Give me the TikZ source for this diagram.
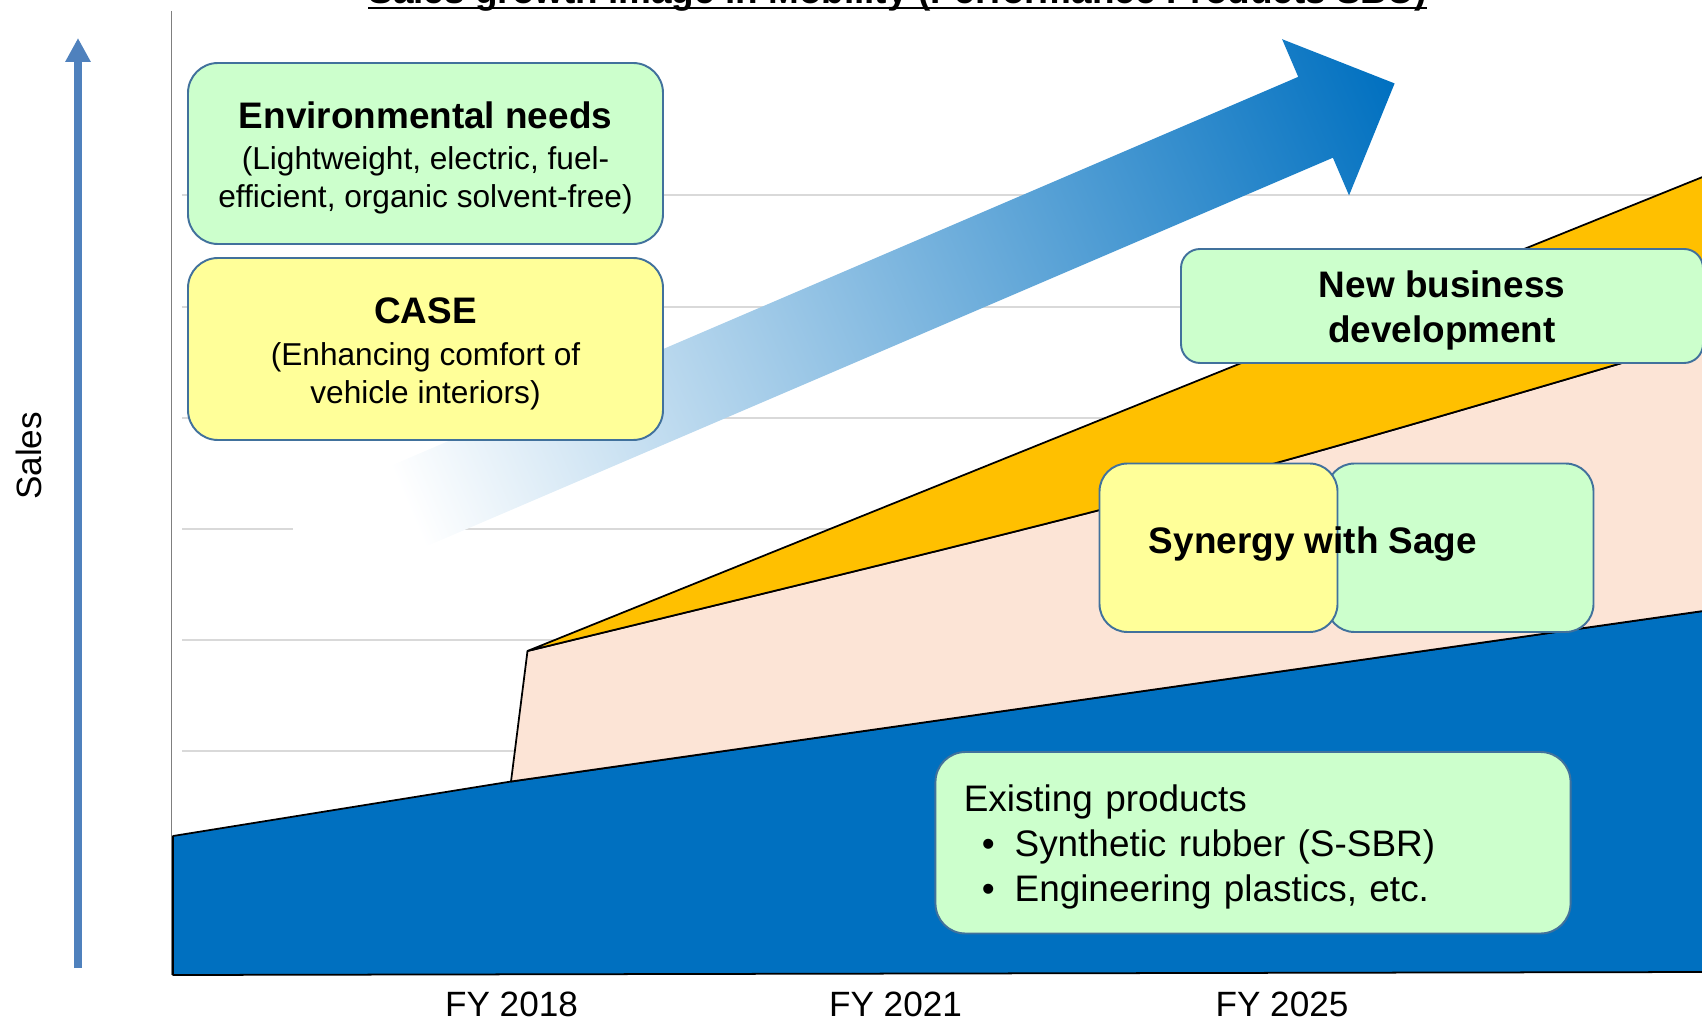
\documentclass[tikz,border=0pt]{standalone}
\usepackage{fontspec}
\setmainfont{Liberation Sans}
\usetikzlibrary{arrows.meta}
\definecolor{boxedge}{HTML}{41719C}
\definecolor{greenfill}{HTML}{CCFFCC}
\definecolor{yellowfill}{HTML}{FFFF99}
\definecolor{gridgray}{HTML}{D9D9D9}
\definecolor{axisgray}{HTML}{7F7F7F}
\definecolor{existblue}{HTML}{0070C0}
\definecolor{synpink}{HTML}{FCE4D6}
\definecolor{neworange}{HTML}{FFC000}
\definecolor{arrowblue}{HTML}{0070C0}
\definecolor{salesblue}{HTML}{4F81BD}
\newcommand{\boxhead}{\fontsize{21}{25.3}\selectfont\bfseries}
\newcommand{\topstrut}{\rule{0pt}{20.4pt}}
\begin{document}
\begin{tikzpicture}[
	gridline/.style={draw=gridgray, line width=1.1pt},
	areaedge/.style={draw=black, line width=1pt, line join=round},
	greenbox/.style={draw=boxedge, line width=1.1pt, fill=greenfill, align=center, inner sep=0pt},
	yellowbox/.style={draw=boxedge, line width=1.1pt, fill=yellowfill, align=center, inner sep=0pt},
	subtext/.style={font=\fontsize{18}{21.6}\selectfont},
	yearlabel/.style={anchor=base, font=\fontsize{20}{24}\selectfont}
]
	\useasboundingbox (0,0) rectangle (34.04,-20.42);
	\draw[gridline] (3.64,-3.90) -- (34.04,-3.90);
	\draw[gridline] (3.64,-6.14) -- (34.04,-6.14);
	\draw[gridline] (3.64,-8.36) -- (34.04,-8.36);
	\draw[gridline] (3.64,-10.58) -- (5.86,-10.58);
	\draw[gridline] (9.30,-10.58) -- (34.04,-10.58);
	\draw[gridline] (3.64,-12.80) -- (34.04,-12.80);
	\draw[gridline] (3.64,-15.02) -- (34.04,-15.02);
	\draw[draw=axisgray, line width=1pt] (3.43,-0.22) -- (3.43,-19.50);
	\draw[areaedge, fill=existblue] (3.46,-16.72) -- (10.22,-15.63) -- (34.20,-12.20) -- (34.20,-19.44) -- (3.46,-19.50) -- cycle;
	\draw[areaedge, fill=synpink] (10.22,-15.63) -- (10.55,-13.02) .. controls (24.00,-9.75) .. (34.20,-6.74) -- (34.20,-12.20) -- cycle;
	\draw[areaedge, fill=neworange] (10.55,-13.02) -- (34.20,-3.48) -- (34.20,-6.74) .. controls (24.00,-9.75) .. (10.55,-13.02) -- cycle;
	\begin{scope}[transform canvas={shift={(8.15,-10.13)}, rotate=23.2}]
		\shade[left color=white, right color=arrowblue] (0,-0.88) -- (19.76,-0.88) -- (19.76,-1.70) -- (21.48,0) -- (19.76,1.70) -- (19.76,0.88) -- (0,0.88) -- cycle;
	\end{scope}
	\node[greenbox, subtext, rounded corners=6mm, minimum width=95mm, minimum height=36.2mm] (envneeds) at (8.51,-3.07) {{\boxhead\topstrut Environmental needs}\\[2pt](Lightweight, electric, fuel-\\efficient, organic solvent-free)};
	\node[yellowbox, subtext, rounded corners=6mm, minimum width=95mm, minimum height=36.4mm] (casebox) at (8.51,-6.98) {{\boxhead\topstrut CASE}\\[2pt](Enhancing comfort of\\vehicle interiors)};
	\node[greenbox, font=\boxhead, rounded corners=3.8mm, minimum width=104.4mm, minimum height=22.8mm] (newbiz) at (28.84,-6.12) {\topstrut New business\\development};
	\node[greenbox, rounded corners=5.6mm, minimum width=53.4mm, minimum height=33.7mm] (sagegreen) at (29.20,-10.955) {};
	\node[yellowbox, rounded corners=5.6mm, minimum width=47.6mm, minimum height=33.7mm] (sageyellow) at (24.37,-10.955) {};
	\node[anchor=base, font=\boxhead] (sagetext) at (26.26,-11.07) {Synergy with Sage};
	\node[greenbox, align=left, rounded corners=6mm, text width=115.7mm, inner xsep=5.66mm, minimum height=36.3mm, font=\fontsize{21}{25.6}\selectfont] (existing) at (25.06,-16.855) {\topstrut Existing products\\\hspace*{3.6mm}\textbullet\hspace{4mm}Synthetic rubber (S-SBR)\\\hspace*{3.6mm}\textbullet\hspace{4mm}Engineering plastics, etc.};
	\node[yearlabel] (fy2018) at (10.23,-20.33) {FY 2018};
	\node[yearlabel] (fy2021) at (17.91,-20.33) {FY 2021};
	\node[yearlabel] (fy2025) at (25.64,-20.33) {FY 2025};
	\coordinate (salesfoot) at (1.56,-19.36);
	\coordinate (salestop) at (1.56,-0.76);
	\draw[draw=salesblue, line width=4pt, -{Triangle[width=4.8mm, length=4.8mm]}] (salesfoot) -- (salestop);
	\node[rotate=90, font=\fontsize{20}{24}\selectfont] (saleslabel) at (0.58,-9.12) {Sales};
	\node[anchor=base, inner sep=0pt, font=\fontsize{21}{25}\selectfont\bfseries] (title) at (17.95,-0.08) {Sales growth image in Mobility (Performance Products SBU)};
	\draw[line width=1.1pt] ([yshift=-0.8mm]title.base west) -- ([yshift=-0.8mm]title.base east);
\end{tikzpicture}
\end{document}
